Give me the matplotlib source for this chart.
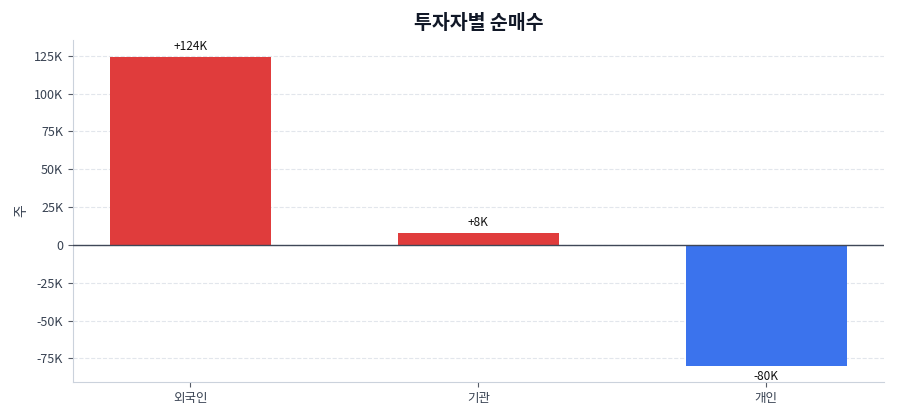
import matplotlib
matplotlib.use("Agg")
import matplotlib.pyplot as plt
from matplotlib.ticker import FuncFormatter

plt.rcParams['font.family'] = ['Noto Sans CJK KR', 'DejaVu Sans']

categories = ['외국인', '기관', '개인']
values = [124000, 8000, -80000]
labels = ['+124K', '+8K', '-80K']
title = '투자자별 순매수'
ylabel = '주'

pos_color = '#e03c3c'
neg_color = '#3b73ed'

fig = plt.figure(figsize=(9, 4.2), dpi=100)
ax = fig.add_axes([0.081, 0.0905, 0.901, 0.8145])

colors = [pos_color if v >= 0 else neg_color for v in values]
x = list(range(len(categories)))
bars = ax.bar(x, values, width=0.56, color=colors, zorder=3)

for b, v, lab in zip(bars, values, labels):
    cx = b.get_x() + b.get_width() / 2
    if v >= 0:
        ax.annotate(lab, (cx, v), xytext=(0, 3), textcoords='offset points',
                    ha='center', va='bottom', fontsize=8.5, color='#111111')
    else:
        ax.annotate(lab, (cx, v), xytext=(0, -3), textcoords='offset points',
                    ha='center', va='top', fontsize=8.5, color='#111111')

ax.axhline(0, color='#3f4757', linewidth=1.0, zorder=4)
ax.set_xticks(x)
ax.set_xticklabels(categories)
ax.set_xlim(-0.408, 2.408)
ax.set_ylim(-90600, 135500)
ax.set_yticks([-75000, -50000, -25000, 0, 25000, 50000, 75000, 100000, 125000])
ax.yaxis.set_major_formatter(FuncFormatter(lambda v, p: '0' if v == 0 else f'{int(v/1000)}K'))

ax.grid(axis='y', linestyle='--', color='#e2e6ec', linewidth=0.8, zorder=0)
ax.set_axisbelow(True)
for s in ['top', 'right']:
    ax.spines[s].set_visible(False)
for s in ['left', 'bottom']:
    ax.spines[s].set_color('#cbd2dc')
ax.tick_params(axis='both', colors='#555b66', labelcolor='#374151', labelsize=9)
ax.set_ylabel(ylabel, fontsize=10, color='#374151')
ax.set_title(title, fontsize=14, fontweight='bold', color='#111827', pad=8)

fig.savefig('out.png', dpi=100)
